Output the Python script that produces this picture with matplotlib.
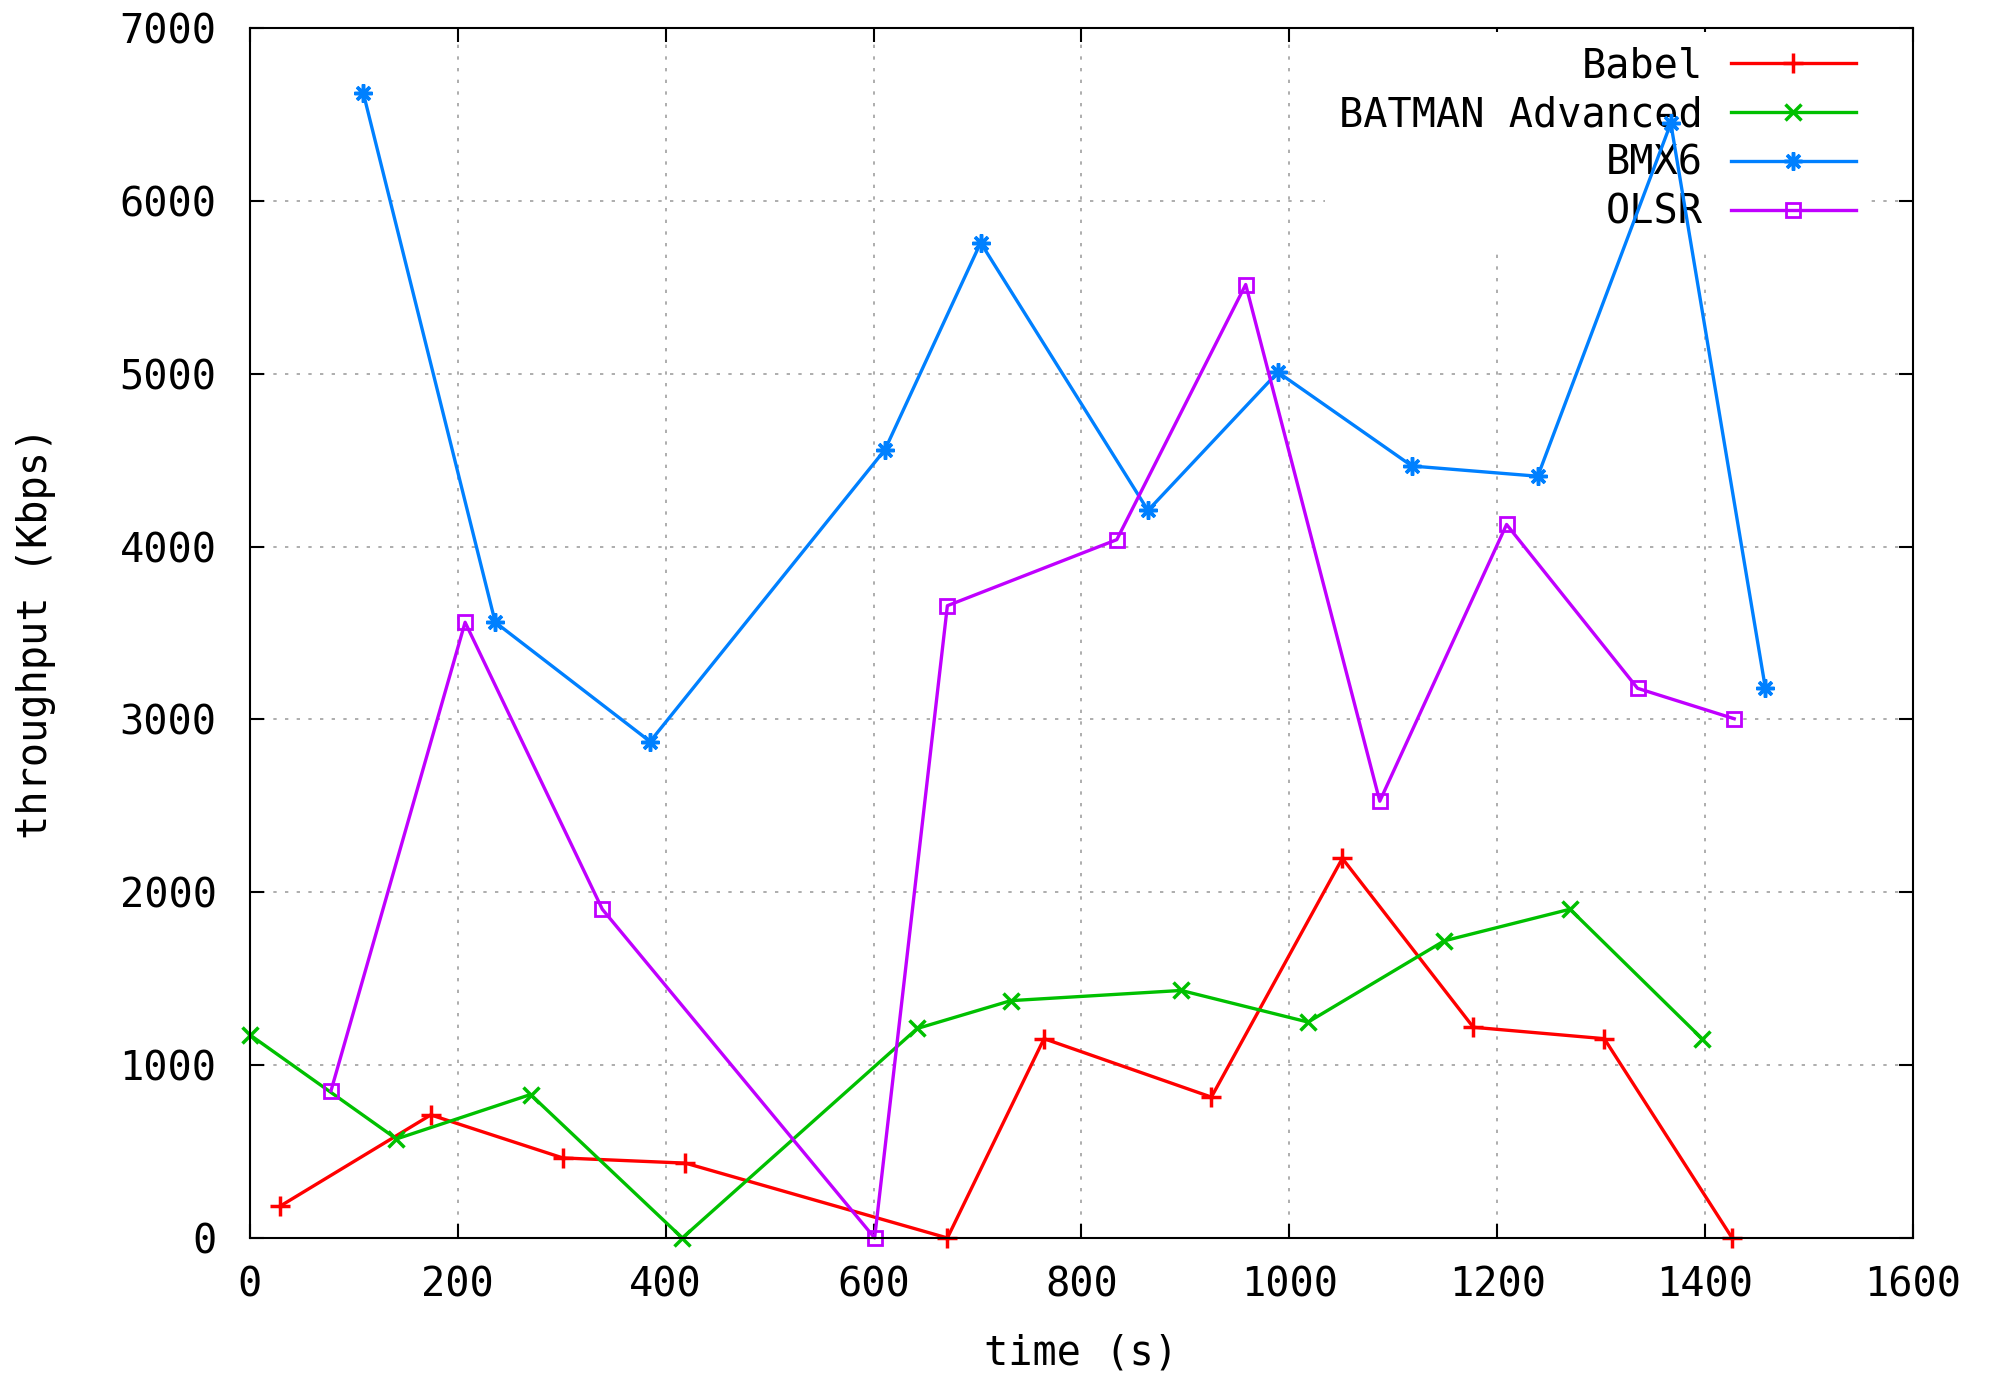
import matplotlib
matplotlib.use("Agg")
from matplotlib import pyplot as plt

plt.rcParams["font.family"] = ["DejaVu Sans Mono"]
plt.rcParams["font.size"] = 29

# throughput samples per protocol: time (s), throughput (Kbps)
babel_t = [29, 174, 301, 419, 671, 764, 925, 1051, 1177, 1303, 1426]
babel_kbps = [184, 712, 463, 433, 0, 1153, 815, 2196, 1219, 1153, 0]

batman_t = [0, 141, 270, 416, 642, 732, 896, 1018, 1149, 1270, 1397]
batman_kbps = [1175, 573, 830, 0, 1212, 1373, 1432, 1249, 1719, 1902, 1153]

bmx6_t = [109, 236, 385, 611, 703, 864, 989, 1118, 1239, 1367, 1458]
bmx6_kbps = [6625, 3562, 2872, 4561, 5758, 4209, 5009, 4466, 4407, 6449, 3180]

olsr_t = [78, 207, 339, 601, 671, 834, 958, 1087, 1209, 1335, 1428]
olsr_kbps = [852, 3562, 1902, 0, 3658, 4040, 5516, 2527, 4128, 3180, 3004]

fig = plt.figure(figsize=(19.9, 13.74), dpi=100)
ax = fig.add_axes([0.1256, 0.099, 0.8357, 0.8806])

lw = 2.4
ax.plot(babel_t, babel_kbps, color="#ff0000", lw=lw, marker="+", ms=15, mew=2.5,
        label="Babel", clip_on=False)
ax.plot(batman_t, batman_kbps, color="#00c000", lw=lw, marker="x", ms=12, mew=2.5,
        label="BATMAN Advanced", clip_on=False)
ax.plot(bmx6_t, bmx6_kbps, color="#0080ff", lw=lw, marker=(8, 2, 0), ms=13, mew=2.5,
        label="BMX6", clip_on=False)
ax.plot(olsr_t, olsr_kbps, color="#c000ff", lw=lw, marker="s", ms=10, mew=2,
        mfc="none", label="OLSR", clip_on=False)

ax.set_xlim(0, 1600)
ax.set_ylim(0, 7000)
ax.set_xticks(range(0, 1601, 200))
ax.set_yticks(range(0, 7001, 1000))
ax.set_axisbelow(True)
ax.grid(True, color="#a0a0a0", linestyle=(0, (2, 5)), lw=1.2)
ax.tick_params(direction="in", length=10, width=1.5, top=True, right=True)
ax.tick_params(axis="y", pad=24)
ax.tick_params(axis="x", pad=20)
for s in ax.spines.values():
    s.set_linewidth(1.5)

ax.set_xlabel("time (s)", labelpad=20)
ax.set_ylabel("throughput (Kbps)", labelpad=46)

leg = ax.legend(loc="upper right", bbox_to_anchor=(0.9765, 1.0), markerfirst=False,
                frameon=True, fancybox=False, edgecolor="none", facecolor="white",
                framealpha=1, handlelength=3.1, handletextpad=0.7, labelspacing=0.22,
                borderaxespad=0.1, borderpad=0.35)
leg.set_zorder(1)
for t in leg.get_texts():
    t.set_ha("right")
leg._legend_box.align = "right"

fig.savefig("out.png", dpi=100)
